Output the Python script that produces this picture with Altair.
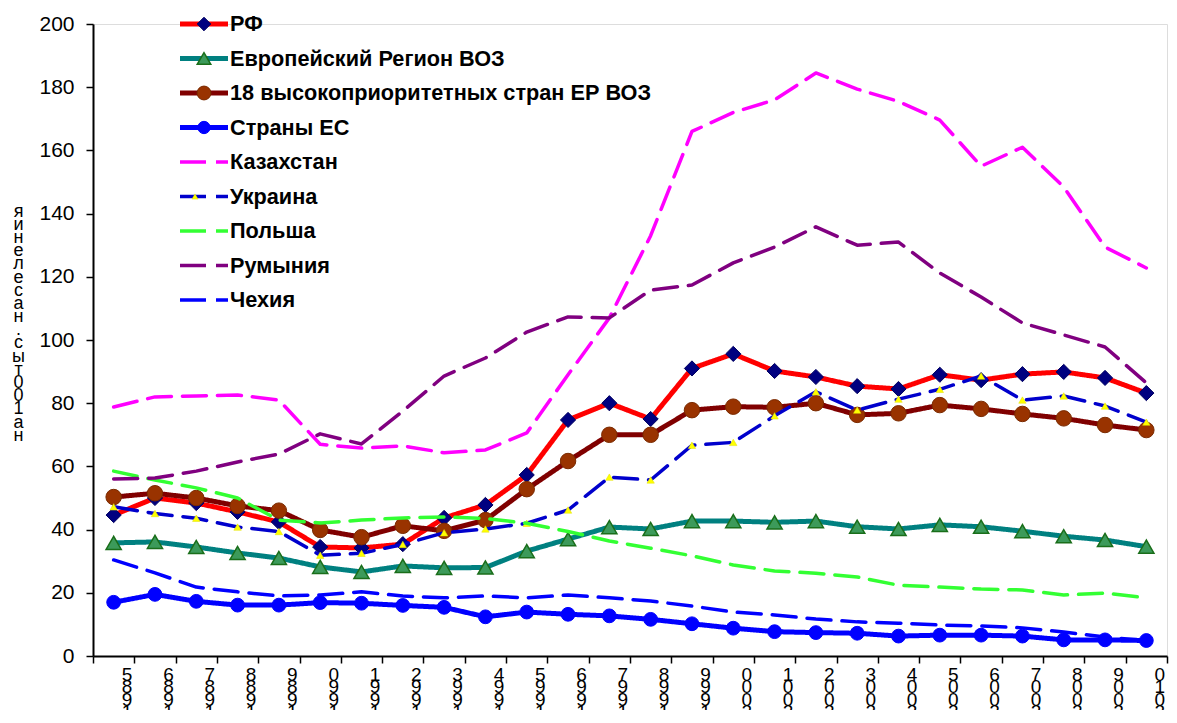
import altair as alt
import pandas as pd

years = [str(y) for y in range(1985, 2011)]

names = [
    "РФ",
    "Европейский Регион ВОЗ",
    "18 высокоприоритетных стран ЕР ВОЗ",
    "Страны ЕС",
    "Казахстан",
    "Украина",
    "Польша",
    "Румыния",
    "Чехия",
]

rf = [44.6, 50.0, 48.4, 45.6, 42.4, 34.5, 34.2, 35.4, 43.7, 47.8, 57.3, 74.7, 80.0, 75.0, 91.0, 95.6, 90.2, 88.3, 85.4, 84.5, 89.0, 87.3, 89.2, 89.9, 88.0, 83.2]
eur = [35.8, 36.1, 34.5, 32.6, 31.0, 28.2, 26.6, 28.5, 27.9, 28.0, 33.2, 37.0, 40.8, 40.2, 42.7, 42.7, 42.3, 42.7, 40.9, 40.2, 41.5, 40.9, 39.5, 37.9, 36.7, 34.6]
hp18 = [50.3, 51.5, 50.0, 47.5, 46.0, 39.9, 37.6, 41.2, 39.6, 43.0, 52.8, 61.7, 70.0, 70.0, 77.8, 78.9, 78.7, 80.0, 76.3, 76.8, 79.4, 78.2, 76.6, 75.2, 73.1, 71.5]
eu = [17.0, 19.5, 17.3, 16.1, 16.1, 16.9, 16.7, 16.0, 15.4, 12.4, 13.9, 13.2, 12.7, 11.6, 10.2, 8.8, 7.7, 7.4, 7.2, 6.3, 6.6, 6.6, 6.3, 5.1, 5.1, 4.9]
kz = [78.8, 82.0, 82.3, 82.6, 81.0, 67.0, 65.8, 66.5, 64.3, 65.2, 70.6, 89.0, 107.0, 133.0, 166.0, 172.0, 176.0, 184.5, 179.4, 175.5, 169.6, 155.0, 161.0, 148.4, 129.4, 122.8]
ua = [47.2, 45.1, 43.6, 40.8, 39.4, 31.9, 32.5, 35.3, 39.0, 40.2, 42.0, 46.2, 56.6, 55.7, 66.7, 67.6, 76.0, 83.6, 77.8, 81.3, 84.4, 88.6, 81.0, 82.3, 79.1, 74.0]
pl = [58.5, 55.7, 53.2, 50.0, 43.0, 42.1, 43.0, 43.7, 44.0, 43.5, 42.0, 39.4, 36.4, 34.1, 31.7, 28.8, 26.9, 26.2, 25.0, 22.4, 21.8, 21.2, 20.9, 19.3, 19.9, 18.4]
ro = [56.0, 56.3, 58.5, 61.4, 63.9, 70.3, 67.1, 77.5, 88.6, 94.3, 102.5, 107.3, 107.0, 115.8, 117.4, 124.4, 129.4, 135.8, 130.0, 131.0, 121.2, 113.6, 105.4, 101.6, 97.8, 86.4]
cz = [30.4, 26.3, 21.8, 20.3, 19.0, 19.3, 20.3, 19.0, 18.4, 19.0, 18.4, 19.3, 18.4, 17.4, 15.8, 13.9, 13.0, 11.7, 10.8, 10.4, 9.8, 9.5, 8.9, 7.6, 6.0, 4.9]

series = [rf, eur, hp18, eu, kz, ua, pl, ro, cz]

y_title = "на 100 тыс. населения"

line_colors = ["#FF0000", "#008080", "#800000", "#0000FF", "#FF00FF", "#0000CC", "#33FF33", "#800080", "#0000FF"]
line_widths = [5, 5, 5, 5, 3.5, 3.5, 3.5, 3.5, 3.5]
dashes = [[1, 0]] * 4 + [[24, 11]] * 5
legend_dashes = [[1, 0]] * 4 + [[26, 10, 14, 10]] * 5

markers = [
    dict(shape="diamond", size=230, fill="#000080", stroke="#000060", strokeWidth=1),
    dict(shape="triangle-up", size=230, fill="#3C9A5A", stroke="#1A6E1A", strokeWidth=1.5),
    dict(shape="circle", size=240, fill="#993300", stroke="#7A2A00", strokeWidth=1),
    dict(shape="circle", size=190, fill="#0000FF", stroke="#0000FF", strokeWidth=1),
    None,
    dict(shape="triangle-up", size=55, fill="#FFFF00", stroke="#E0E000", strokeWidth=0.5),
    None,
    None,
    None,
]

rows = []
for name, vals in zip(names, series):
    for yr, v in zip(years, vals):
        rows.append({"name": name, "year": yr, "value": v})
df = pd.DataFrame(rows)

legend_df = pd.DataFrame({"name": names, "row": list(range(len(names)))})

FONT = "Liberation Sans"

x_scale = alt.Scale(type="band", domain=years, paddingInner=0, paddingOuter=0)
y_scale = alt.Scale(domain=[0, 200], nice=False, zero=False)
leg_scale = alt.Scale(domain=[0, 8], range=[0, 276], nice=False, zero=False)

x_axis = alt.Axis(
    title=None,
    tickBand="extent",
    labelExpr="reverse(split(datum.label, ''))",
    labelAngle=0,
    labelFontSize=19,
    labelLineHeight=12.5,
    labelBaseline="top",
    labelAlign="center",
    labelPadding=2,
    labelOffset=13,
    labelFont=FONT,
    labelColor="#000000",
    domainColor="#000000",
    domainWidth=2,
    tickColor="#000000",
    tickWidth=1.5,
    tickSize=7,
    grid=False,
)

y_axis = alt.Axis(
    values=list(range(0, 201, 20)),
    title=list(reversed(y_title)),
    titleAngle=0,
    titleX=-75,
    titleY=178,
    titleAlign="center",
    titleBaseline="top",
    titleFontSize=18,
    titleFontWeight="normal",
    titleLineHeight=13.2,
    titleFont=FONT,
    titleColor="#000000",
    labelFontSize=21,
    labelFont=FONT,
    labelColor="#000000",
    labelPadding=12,
    domainColor="#000000",
    domainWidth=2,
    tickColor="#000000",
    tickWidth=1.5,
    tickSize=7,
    grid=False,
)

layers = []
first = True
for i, name in enumerate(names):
    sub = alt.Chart(df).transform_filter(alt.datum.name == name)
    xe = alt.X("year:O", scale=x_scale, axis=x_axis)
    ye = alt.Y("value:Q", scale=y_scale, axis=y_axis if first else None)
    first = False
    layers.append(
        sub.mark_line(
            color=line_colors[i],
            strokeWidth=line_widths[i],
            strokeDash=dashes[i],
            strokeCap="butt" if i < 4 else "round",
            strokeJoin="round",
        ).encode(x=xe, y=ye)
    )
    if markers[i]:
        m = markers[i]
        layers.append(
            sub.mark_point(
                filled=True, opacity=1, shape=m["shape"], size=m["size"],
                fill=m["fill"], stroke=m["stroke"], strokeWidth=m["strokeWidth"],
            ).encode(
                x=alt.X("year:O", scale=x_scale, axis=x_axis),
                y=alt.Y("value:Q", scale=y_scale, axis=None),
            )
        )

# legend
for i, name in enumerate(names):
    leg = alt.Chart(legend_df).transform_filter(alt.datum.name == name)
    ly = alt.Y("row:Q", scale=leg_scale, axis=None)
    layers.append(
        leg.mark_rule(
            color=line_colors[i],
            strokeWidth=line_widths[i],
            strokeDash=legend_dashes[i],
            strokeCap="butt",
        ).encode(x=alt.value(87), x2=alt.value(135), y=ly)
    )
    if markers[i]:
        m = markers[i]
        sz = m["size"] if i != 5 else 45
        xpos = 111 if i != 5 else 102
        layers.append(
            leg.mark_point(
                filled=True, opacity=1, shape=m["shape"], size=sz * 0.8,
                fill=m["fill"], stroke=m["stroke"], strokeWidth=m["strokeWidth"],
            ).encode(x=alt.value(xpos), y=ly)
        )
    layers.append(
        leg.mark_text(
            align="left", baseline="middle", font=FONT, fontSize=21.7,
            fontWeight="bold", color="#000000",
        ).encode(x=alt.value(137), y=ly, text="name:N")
    )

chart = (
    alt.layer(*layers)
    .resolve_scale(y="independent")
    .properties(
        width=1074,
        height=632,
        padding={"left": 85, "top": 16, "right": 2, "bottom": 54},
        autosize=alt.AutoSizeParams(type="none"),
    )
    .configure_view(stroke=None)
    .configure(background="#FFFFFF")
)

chart.save("out.html", embed_options={"renderer": "svg", "actions": False})
